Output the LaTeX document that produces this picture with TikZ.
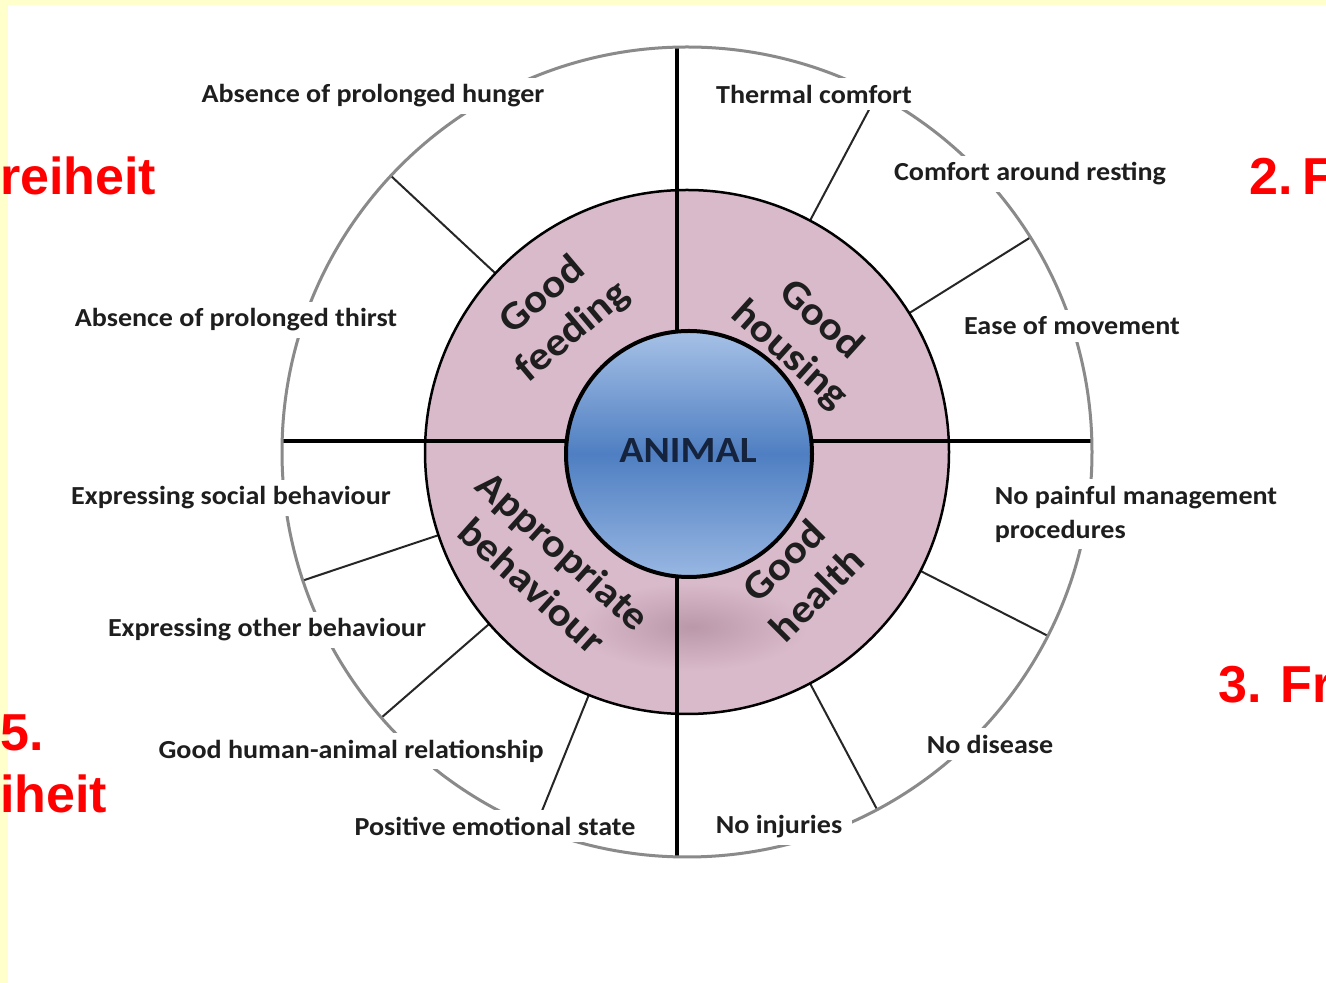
\documentclass[tikz,border=0pt]{standalone}
\usepackage{fontspec}
\setmainfont[FakeStretch=1.08]{Carlito}
\newfontfamily\redfont{Liberation Sans}
\usetikzlibrary{calc}
\definecolor{wfPink}{HTML}{D9BACA}
\definecolor{wfShade}{HTML}{BA98AA}
\definecolor{wfBlueTop}{HTML}{A6C1E6}
\definecolor{wfBlueMid}{HTML}{4F7FC2}
\definecolor{wfBlueBot}{HTML}{98B7E2}
\definecolor{wfRing}{HTML}{8A8A8A}
\definecolor{wfText}{HTML}{1E1E1E}
\definecolor{wfNavy}{HTML}{15233D}
\definecolor{wfPaper}{HTML}{FFFFCC}
\tikzset{
  crit/.style={fill=white, inner xsep=10pt, inner ysep=7pt, text=wfText,
    font=\fontsize{26}{34}\selectfont\bfseries},
  principle/.style={align=center, text=wfText, inner sep=0pt,
    font=\fontsize{40}{47}\selectfont\bfseries},
  spoke/.style={line width=2pt, black!85},
  crossline/.style={line width=3.5pt},
  freedom/.style={anchor=base west, inner sep=0pt, text=red,
    font=\redfont\fontsize{52}{62}\selectfont\bfseries},
}

\begin{document}
\begin{tikzpicture}[x=1pt,y=1pt]
  \useasboundingbox (0,0) rectangle (1326,983);
  \clip (0,0) rectangle (1326,983);
  % ------- paper -------
  \fill[wfPaper] (0,0) rectangle (1326,983);
  \fill[white] (8,0) rectangle (1326,978);
  \coordinate (c) at (687,531);
  \coordinate (core) at (689,529);
  % ------- pink ring of the four principles -------
  \fill[wfPink] (c) circle (262);
  \shade[inner color=wfShade, outer color=wfPink] (692,356) ellipse [x radius=115, y radius=44];
  % the cross
  \coordinate (top) at (677,936);
  \coordinate (bot) at (677,126);
  \coordinate (lft) at (282,542);
  \coordinate (rgt) at (1092,542);
  \draw[crossline] (top) -- (bot);
  \draw[crossline] (lft) -- (rgt);
  % spokes between the criteria
  \foreach \a in {137,62,32,-27,-62,-112,221,198.5}
    \draw[spoke] ($(c)+(\a:262)$) -- ($(c)+(\a:405)$);
  \draw[wfRing, line width=3pt] (c) circle (405);
  \draw[line width=2.5pt] (c) circle (262);
  % ------- the animal -------
  \shade[top color=wfBlueTop, bottom color=wfBlueBot, middle color=wfBlueMid] (core) circle (123);
  \draw[line width=4pt] (core) circle (123);
  \node[text=wfNavy, font=\fontsize{37}{40}\selectfont\bfseries] (animal) at (688,532) {ANIMAL};
  % principles
  \node[principle, rotate=40] (feeding) at (558,669) {Good\\feeding};
  \node[principle, rotate=-42] (housing) at (805,645) {Good\\housing};
  \node[principle, rotate=-42] (behaviour) at (548,415) {Appropriate\\behaviour};
  \node[principle, rotate=45] (health) at (800,406) {Good\\health};
  % ------- criteria -------
  \node[crit] (hunger) at (373,887) {Absence of prolonged hunger};
  \node[crit] (thirst) at (236,663) {Absence of prolonged thirst};
  \node[crit] (thermal) at (814,889) {Thermal comfort};
  \node[crit] (resting) at (1030,809) {Comfort around resting};
  \node[crit] (movement) at (1072,657) {Ease of movement};
  \node[crit, align=left] (painful) at (1136,469) {No painful management\\procedures};
  \node[crit] (disease) at (990,239) {No disease};
  \node[crit] (injuries) at (779,156) {No injuries};
  \node[crit] (emotional) at (495,157) {Positive emotional state};
  \node[crit] (human) at (351,232) {Good human-animal relationship};
  \node[crit] (other) at (267,353) {Expressing other behaviour};
  \node[crit] (social) at (231,485) {Expressing social behaviour};
  % ------- freedoms, cut by the frame -------
  \node[freedom] (f1) at (0,788) {reiheit};
  \node[freedom] (f2) at (1249,788) {2.\hspace{0.2em}F};
  \node[freedom] (f3) at (1218,280) {3. Fr};
  \node[freedom] (f5a) at (0,232) {5.};
  \node[freedom] (f5b) at (0,170) {iheit};
\end{tikzpicture}
\end{document}
